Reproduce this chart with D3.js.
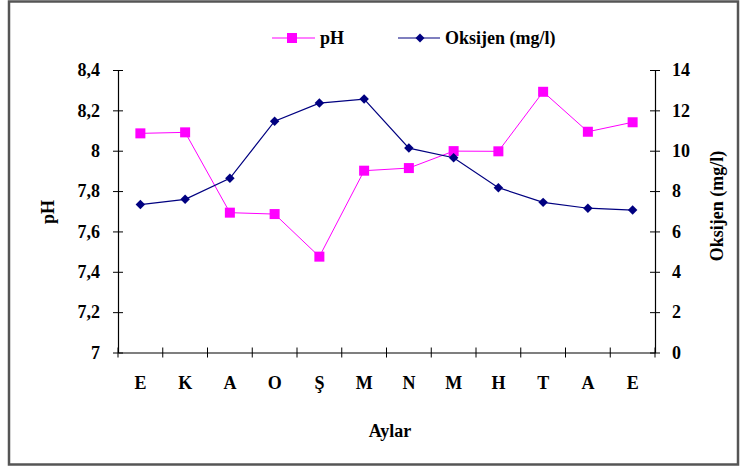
<!DOCTYPE html>
<html>
<head>
<meta charset="utf-8">
<script src="https://cdn.jsdelivr.net/npm/d3@7"></script>
<style>
  body { margin: 0; background: #fff; }
  text { font-family: "Liberation Serif", "Times New Roman", serif; font-weight: bold; fill: #000; }
</style>
</head>
<body>
<svg width="744" height="468"></svg>
<script>
// aylar (x ekseni)
var months = ["E", "K", "A", "O", "Ş", "M", "N", "M", "H", "T", "A", "E"];
// pH değerleri
var phValues = [8.086, 8.091, 7.693, 7.686, 7.475, 7.901, 7.914, 7.998, 7.997, 8.292, 8.094, 8.141];
// oksijen (mg/l)
var oxValues = [7.33, 7.59, 8.63, 11.46, 12.36, 12.56, 10.13, 9.65, 8.17, 7.44, 7.15, 7.06];
var phTicks = [7, 7.2, 7.4, 7.6, 7.8, 8, 8.2, 8.4];
var oxTicks = [0, 2, 4, 6, 8, 10, 12, 14];

var svg = d3.select("svg");

// çerçeve
svg.append("rect")
    .attr("x", 9).attr("y", 1.5)
    .attr("width", 729).attr("height", 463)
    .attr("fill", "#fff")
    .attr("stroke", "#555")
    .attr("stroke-width", 2.5);

var pLeft = 118, pRight = 655, pTop = 70, pBottom = 352.5;

var x = d3.scaleBand().domain(d3.range(months.length)).range([pLeft, pRight]);
var yL = d3.scaleLinear().domain([7, 8.4]).range([pBottom, pTop]);
var yR = d3.scaleLinear().domain([0, 14]).range([pBottom, pTop]);

var comma = function(d) { return String(d).replace(".", ","); };

// sol eksen
var gL = svg.append("g")
    .attr("transform", "translate(" + pLeft + ",0)")
    .call(d3.axisLeft(yL).tickValues(phTicks).tickFormat(comma).tickSizeInner(5).tickSizeOuter(0).tickPadding(13));
gL.selectAll(".tick line").attr("x1", 5);

// sağ eksen
var gR = svg.append("g")
    .attr("transform", "translate(" + pRight + ",0)")
    .call(d3.axisRight(yR).tickValues(oxTicks).tickSizeInner(5).tickSizeOuter(0).tickPadding(12));
gR.selectAll(".tick line").attr("x1", -5);

// alt eksen
var gB = svg.append("g")
    .attr("transform", "translate(0," + pBottom + ")")
    .call(d3.axisBottom(x).tickFormat(function(i) { return months[i]; }).tickSize(0).tickPadding(24));
gB.selectAll(".tick line").remove();
gB.selectAll("line.cross")
    .data(d3.range(months.length + 1))
    .enter().append("line")
    .attr("class", "cross")
    .attr("x1", function(i) { return pLeft + x.step() * i; })
    .attr("x2", function(i) { return pLeft + x.step() * i; })
    .attr("y1", -5).attr("y2", 5)
    .attr("stroke", "#000");

svg.selectAll(".domain").attr("stroke", "#000").attr("stroke-width", 1.2);
svg.selectAll(".tick text").style("font-size", "18px");

var cx = function(d, i) { return x(i) + x.bandwidth() / 2; };

// pH çizgisi
svg.append("path")
    .datum(phValues)
    .attr("fill", "none")
    .attr("stroke", "#ff00ff")
    .attr("stroke-width", 1)
    .attr("d", d3.line().x(cx).y(function(d) { return yL(d); }));

// oksijen çizgisi
svg.append("path")
    .datum(oxValues)
    .attr("fill", "none")
    .attr("stroke", "#000080")
    .attr("stroke-width", 1.2)
    .attr("d", d3.line().x(cx).y(function(d) { return yR(d); }));

svg.selectAll("rect.ph")
    .data(phValues)
    .enter().append("rect")
    .attr("class", "ph")
    .attr("x", function(d, i) { return cx(d, i) - 5; })
    .attr("y", function(d) { return yL(d) - 5; })
    .attr("width", 10).attr("height", 10)
    .attr("fill", "#ff00ff");

svg.selectAll("path.ox")
    .data(oxValues)
    .enter().append("path")
    .attr("class", "ox")
    .attr("transform", function(d, i) { return "translate(" + cx(d, i) + "," + yR(d) + ") rotate(45)"; })
    .attr("d", d3.symbol().type(d3.symbolSquare).size(45))
    .attr("fill", "#000080");

// eksen başlıkları
svg.append("text")
    .attr("transform", "translate(54,212) rotate(-90)")
    .attr("text-anchor", "middle")
    .style("font-size", "18px")
    .text("pH");

svg.append("text")
    .attr("transform", "translate(723,206) rotate(-90)")
    .attr("text-anchor", "middle")
    .style("font-size", "18px")
    .text("Oksijen (mg/l)");

svg.append("text")
    .attr("x", 390).attr("y", 437)
    .attr("text-anchor", "middle")
    .style("font-size", "18px")
    .text("Aylar");

// lejant
var legend = svg.append("g");
legend.append("line").attr("x1", 272).attr("x2", 315).attr("y1", 38).attr("y2", 38)
    .attr("stroke", "#ff00ff").attr("stroke-width", 1.2);
legend.append("rect").attr("x", 287).attr("y", 33).attr("width", 10).attr("height", 10).attr("fill", "#ff00ff");
legend.append("text").attr("x", 320).attr("y", 44).style("font-size", "18px").text("pH");

legend.append("line").attr("x1", 398).attr("x2", 440).attr("y1", 38).attr("y2", 38)
    .attr("stroke", "#000080").attr("stroke-width", 1.2);
legend.append("path").attr("transform", "translate(420,38) rotate(45)")
    .attr("d", d3.symbol().type(d3.symbolSquare).size(40)).attr("fill", "#000080");
legend.append("text").attr("x", 445).attr("y", 44).style("font-size", "18px").text("Oksijen (mg/l)");
</script>
</body>
</html>
